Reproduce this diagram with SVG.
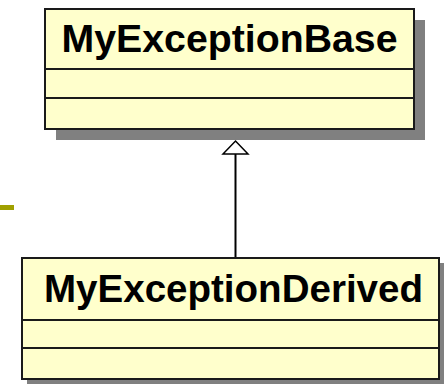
<svg xmlns="http://www.w3.org/2000/svg" width="444" height="384" viewBox="0 0 444 384">
<defs>
<style>
.shadow{fill:#808080;}
.box{fill:#ffffcc;stroke:#1a1a1a;stroke-width:2;}
.div{stroke:#1a1a1a;stroke-width:2;}
.name{font-family:"Liberation Sans",Arial,sans-serif;font-weight:bold;font-size:38px;fill:#000;text-anchor:middle;}
.conn{stroke:#000;stroke-width:2;fill:none;}
.head{fill:#fff;stroke:#000;stroke-width:1.5;}
</style>
</defs>
<rect x="0" y="205" width="14" height="5" fill="#a0a000"/>
<g id="connectors">
<line class="conn" x1="235.5" y1="258" x2="235.5" y2="154"/>
<polygon class="head" points="235.5,141 248,154 223,154"/>
</g>
<g id="MyExceptionBase">
<rect class="shadow" x="56" y="20" width="369" height="120"/>
<rect class="box" x="45" y="9" width="369" height="120"/>
<line class="div" x1="45" y1="69" x2="414" y2="69"/>
<line class="div" x1="45" y1="98" x2="414" y2="98"/>
<text class="name" x="229.5" y="52" textLength="336" lengthAdjust="spacingAndGlyphs">MyExceptionBase</text>
</g>
<g id="MyExceptionDerived">
<rect class="shadow" x="27" y="263" width="420" height="126"/>
<rect class="box" x="22" y="258" width="417" height="121"/>
<line class="div" x1="22" y1="320" x2="439" y2="320"/>
<line class="div" x1="22" y1="348" x2="439" y2="348"/>
<text class="name" x="233.5" y="302" textLength="379" lengthAdjust="spacingAndGlyphs">MyExceptionDerived</text>
</g>
</svg>
